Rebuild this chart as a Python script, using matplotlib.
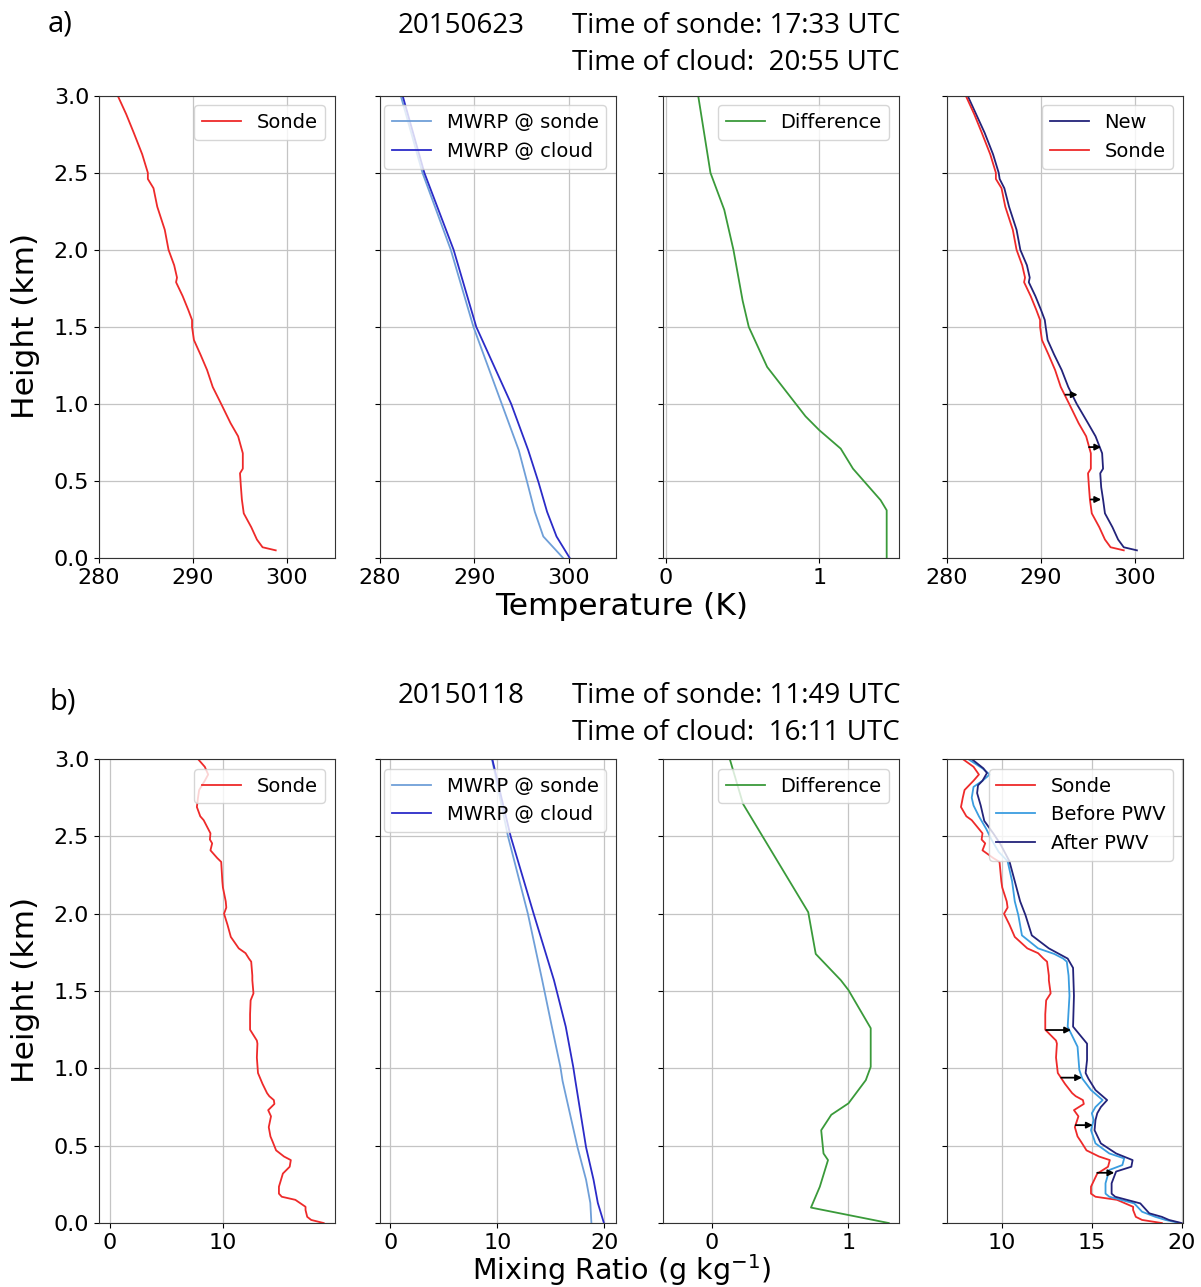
import matplotlib.pyplot as plt

# ---- a) temperature profiles, 20150623 ----
sonde_t_height = [3.00, 2.88, 2.76, 2.62, 2.50, 2.46, 2.40, 2.28, 2.13, 2.00, 1.90,
                  1.82, 1.79, 1.70, 1.61, 1.545, 1.50, 1.415, 1.32, 1.22, 1.11, 1.00,
                  0.875, 0.79, 0.68, 0.58, 0.55, 0.46, 0.38, 0.29, 0.20, 0.12, 0.07, 0.05]
sonde_t = [282.0, 282.9, 283.7, 284.6, 285.2, 285.2, 285.8, 286.2, 287.0, 287.4, 288.0,
           288.3, 288.2, 288.9, 289.5, 289.9, 289.9, 290.1, 290.8, 291.5, 292.1, 293.0,
           294.0, 294.8, 295.3, 295.3, 295.0, 295.1, 295.2, 295.4, 296.2, 296.8, 297.4, 298.8]
new_t = [282.2, 283.1, 284.0, 284.9, 285.5, 285.6, 286.1, 286.6, 287.4, 287.8, 288.5,
         288.8, 288.7, 289.4, 290.0, 290.4, 290.5, 290.7, 291.4, 292.2, 292.9, 293.8,
         295.0, 295.8, 296.5, 296.6, 296.3, 296.4, 296.6, 296.8, 297.6, 298.2, 298.8, 300.2]

mwrp_t_height = [3.0, 2.5, 2.0, 1.5, 1.0, 0.70, 0.49, 0.30, 0.14, 0.06, 0.0]
mwrp_sonde_t = [282.2, 284.5, 287.5, 289.9, 292.9, 294.7, 295.6, 296.4, 297.3, 298.5, 299.4]
mwrp_cloud_t = [282.4, 284.7, 287.8, 290.2, 293.9, 295.7, 296.8, 297.7, 298.7, 299.5, 300.1]

diff_t_height = [3.0, 2.5, 2.26, 2.0, 1.67, 1.5, 1.24, 0.92, 0.83, 0.71, 0.58, 0.376, 0.31, 0.0]
diff_t = [0.21, 0.29, 0.38, 0.44, 0.50, 0.54, 0.66, 0.91, 1.0, 1.14, 1.22, 1.40, 1.44, 1.44]

arrow_t_height = [1.06, 0.72, 0.38]
arrow_t_start = [292.6, 295.1, 295.3]
arrow_t_end = [293.9, 296.4, 296.4]

# ---- b) mixing ratio profiles, 20150118 ----
sonde_q_height = [3.0, 2.95, 2.90, 2.86, 2.80, 2.75, 2.69, 2.63, 2.605, 2.52, 2.48, 2.455,
                  2.41, 2.36, 2.335, 2.21, 2.17, 2.08, 2.04, 2.0, 1.93, 1.85, 1.776, 1.745,
                  1.71, 1.69, 1.60, 1.57, 1.485, 1.44, 1.35, 1.25, 1.18, 1.16, 1.07, 0.97,
                  0.935, 0.90, 0.84, 0.82, 0.795, 0.77, 0.73, 0.69, 0.62, 0.56, 0.525, 0.47,
                  0.43, 0.407, 0.364, 0.32, 0.235, 0.19, 0.17, 0.15, 0.105, 0.084, 0.04,
                  0.02, 0.0]
sonde_q = [7.8, 8.4, 8.7, 8.4, 7.9, 7.8, 7.7, 8.0, 8.3, 8.9, 8.85, 9.05,
           8.9, 9.5, 9.85, 9.95, 10.0, 10.25, 10.3, 10.1, 10.4, 10.7, 11.4, 12.0,
           12.3, 12.5, 12.6, 12.6, 12.7, 12.45, 12.4, 12.4, 13.0, 13.05, 13.0, 13.1,
           13.3, 13.5, 13.9, 14.1, 14.5, 14.55, 14.0, 14.25, 14.05, 14.2, 14.4, 14.7,
           15.4, 16.0, 15.9, 15.3, 14.95, 14.95, 15.2, 16.4, 17.3, 17.3, 17.45,
           17.8, 18.9]

before_q_height = [3.0, 2.94, 2.90, 2.86, 2.82, 2.75, 2.70, 2.63, 2.55, 2.48, 2.40, 2.34,
                   2.21, 2.08, 1.99, 1.86, 1.776, 1.74, 1.71, 1.69, 1.60, 1.47, 1.27, 1.14,
                   0.99, 0.935, 0.86, 0.795, 0.75, 0.71, 0.666, 0.60, 0.515, 0.45, 0.418,
                   0.375, 0.343, 0.257, 0.19, 0.17, 0.127, 0.073, 0.04, 0.02, 0.0]
before_q = [8.1, 8.9, 9.3, 8.9, 8.4, 8.3, 8.4, 8.7, 9.1, 9.4, 9.8, 10.3,
            10.55, 10.7, 10.9, 11.1, 12.0, 12.9, 13.4, 13.6, 13.7, 13.75, 13.65, 14.2,
            14.3, 14.46, 14.95, 15.6, 15.2, 15.0, 15.1, 14.95, 15.2, 15.97, 16.8,
            16.7, 15.97, 15.76, 15.76, 15.97, 17.36, 17.8, 18.54, 19.1, 19.9]

after_q_height = [3.0, 2.94, 2.91, 2.86, 2.83, 2.78, 2.70, 2.60, 2.52, 2.45, 2.34, 2.21,
                  2.08, 1.99, 1.86, 1.776, 1.71, 1.65, 1.47, 1.27, 1.16, 1.054, 0.97, 0.935,
                  0.86, 0.795, 0.75, 0.71, 0.666, 0.60, 0.515, 0.45, 0.407, 0.364, 0.333,
                  0.257, 0.19, 0.17, 0.127, 0.063, 0.04, 0.02, 0.0]
after_q = [8.3, 8.95, 9.15, 8.9, 8.65, 8.6, 8.8, 9.0, 9.5, 9.9, 10.4, 10.7,
           11.0, 11.3, 11.65, 12.6, 13.65, 13.95, 14.0, 13.95, 14.73, 14.73, 14.65, 14.8,
           15.2, 15.85, 15.5, 15.3, 15.2, 15.15, 15.5, 16.35, 17.27, 17.2, 16.35,
           16.1, 16.1, 16.3, 17.7, 18.2, 18.9, 19.3, 20.0]

mwrp_q_height = [3.0, 2.5, 2.0, 1.57, 1.27, 1.01, 0.92, 0.49, 0.28, 0.13, 0.0]
mwrp_sonde_q = [9.5, 11.0, 12.86, 14.2, 15.1, 15.9, 16.1, 17.5, 18.3, 18.7, 18.8]
mwrp_cloud_q = [9.53, 11.25, 13.4, 15.3, 16.4, 17.1, 17.3, 18.3, 19.0, 19.4, 19.97]

diff_q_height = [3.0, 2.71, 2.01, 1.74, 1.57, 1.506, 1.26, 1.01, 0.924, 0.774, 0.70,
                 0.60, 0.45, 0.407, 0.235, 0.10, 0.0]
diff_q = [0.13, 0.227, 0.705, 0.76, 0.944, 1.0, 1.163, 1.163, 1.127, 1.0, 0.874,
          0.80, 0.817, 0.85, 0.79, 0.725, 1.295]

arrow_q_height = [1.248, 0.94, 0.633, 0.325]
arrow_q_start = [12.45, 13.29, 14.1, 15.3]
arrow_q_end = [13.84, 14.45, 15.05, 16.25]

height_ticks = [0.0, 0.5, 1.0, 1.5, 2.0, 2.5, 3.0]

RED = "#ee2a2a"
LIGHT = "#6f9fd8"
BLUE = "#2b2bc8"
GREEN = "#3a9a3a"
NAVY = "#23237a"
SKY = "#3a9de0"

COL_LEFT = [0.0824, 0.3164, 0.5520, 0.7885]
COL_W = 0.1965
ROW_BOTTOM = [0.5664, 0.0497]
ROW_H = [0.3592, 0.3605]


def style_axis(ax, xlim, xticks, first):
    ax.set_xlim(*xlim)
    ax.set_xticks(xticks)
    ax.set_ylim(0, 3)
    ax.set_yticks(height_ticks)
    ax.grid(True, color="#c4c4c4", linewidth=0.9)
    ax.tick_params(labelsize=16)
    if not first:
        ax.tick_params(labelleft=False)
    else:
        ax.set_yticklabels([f"{v:.1f}" for v in height_ticks])
    for spine in ax.spines.values():
        spine.set_color("#333333")


def draw_arrows(ax, heights, starts, ends):
    for h, x0, x1 in zip(heights, starts, ends):
        ax.annotate("", xy=(x1, h), xytext=(x0, h),
                    arrowprops=dict(arrowstyle="-|>", color="black", lw=1.3,
                                    mutation_scale=9, shrinkA=0, shrinkB=0))


fig = plt.figure(figsize=(12.01, 12.87), dpi=100)
axes = [[fig.add_axes([COL_LEFT[c], ROW_BOTTOM[r], COL_W, ROW_H[r]]) for c in range(4)]
        for r in range(2)]

lw = 1.3
leg_kw = dict(fontsize=14, loc="upper right")

# row a
ax = axes[0][0]
ax.plot(sonde_t, sonde_t_height, color=RED, lw=lw, label="Sonde")
style_axis(ax, (280, 305.1), [280, 290, 300], True)
ax.legend(**leg_kw)

ax = axes[0][1]
ax.plot(mwrp_sonde_t, mwrp_t_height, color=LIGHT, lw=lw, label="MWRP @ sonde")
ax.plot(mwrp_cloud_t, mwrp_t_height, color=BLUE, lw=lw, label="MWRP @ cloud")
style_axis(ax, (280, 305), [280, 290, 300], False)
ax.legend(**leg_kw)

ax = axes[0][2]
ax.plot(diff_t, diff_t_height, color=GREEN, lw=lw, label="Difference")
style_axis(ax, (-0.02, 1.52), [0, 1], False)
ax.legend(**leg_kw)

ax = axes[0][3]
ax.plot(new_t, sonde_t_height, color=NAVY, lw=lw, label="New")
ax.plot(sonde_t, sonde_t_height, color=RED, lw=lw, label="Sonde")
draw_arrows(ax, arrow_t_height, arrow_t_start, arrow_t_end)
style_axis(ax, (280, 305.1), [280, 290, 300], False)
ax.legend(**leg_kw)

# row b
ax = axes[1][0]
ax.plot(sonde_q, sonde_q_height, color=RED, lw=lw, label="Sonde")
style_axis(ax, (-0.95, 19.9), [0, 10], True)
ax.legend(**leg_kw)

ax = axes[1][1]
ax.plot(mwrp_sonde_q, mwrp_q_height, color=LIGHT, lw=lw, label="MWRP @ sonde")
ax.plot(mwrp_cloud_q, mwrp_q_height, color=BLUE, lw=lw, label="MWRP @ cloud")
style_axis(ax, (-0.97, 21.1), [0, 10, 20], False)
ax.legend(**leg_kw)

ax = axes[1][2]
ax.plot(diff_q, diff_q_height, color=GREEN, lw=lw, label="Difference")
style_axis(ax, (-0.36, 1.37), [0, 1], False)
ax.legend(**leg_kw)

ax = axes[1][3]
ax.plot(sonde_q, sonde_q_height, color=RED, lw=lw, label="Sonde")
ax.plot(before_q, before_q_height, color=SKY, lw=lw, label="Before PWV")
ax.plot(after_q, after_q_height, color=NAVY, lw=lw, label="After PWV")
draw_arrows(ax, arrow_q_height, arrow_q_start, arrow_q_end)
style_axis(ax, (6.92, 20.08), [10, 15, 20], False)
ax.legend(**leg_kw)

# shared labels
fig.text(0.0216, 0.7467, "Height (km)", rotation=90, ha="center", va="center", fontsize=22.5)
fig.text(0.0216, 0.2308, "Height (km)", rotation=90, ha="center", va="center", fontsize=22.5)
fig.text(0.518, 0.522, "Temperature (K)", ha="center", va="baseline", fontsize=22.5)
fig.text(0.518, 0.0058, "Mixing Ratio (g kg$^{-1}$)", ha="center", va="baseline", fontsize=20.5)

# panel headers
head = dict(fontsize=20, family="Open Sans", va="baseline", ha="left")
fig.text(48 / 1201, 1 - 32 / 1287, "a)", fontsize=21, family="Open Sans", va="baseline")
fig.text(398 / 1201, 1 - 33 / 1287, "20150623", **head)
fig.text(572 / 1201, 1 - 33 / 1287, "Time of sonde: 17:33 UTC", **head)
fig.text(572 / 1201, 1 - 70 / 1287, "Time of cloud:  20:55 UTC", **head)
fig.text(49 / 1201, 1 - 710 / 1287, "b)", fontsize=21, family="Open Sans", va="baseline")
fig.text(398 / 1201, 1 - 703 / 1287, "20150118", **head)
fig.text(572 / 1201, 1 - 703 / 1287, "Time of sonde: 11:49 UTC", **head)
fig.text(572 / 1201, 1 - 740 / 1287, "Time of cloud:  16:11 UTC", **head)

fig.savefig("out.png", dpi=100)
